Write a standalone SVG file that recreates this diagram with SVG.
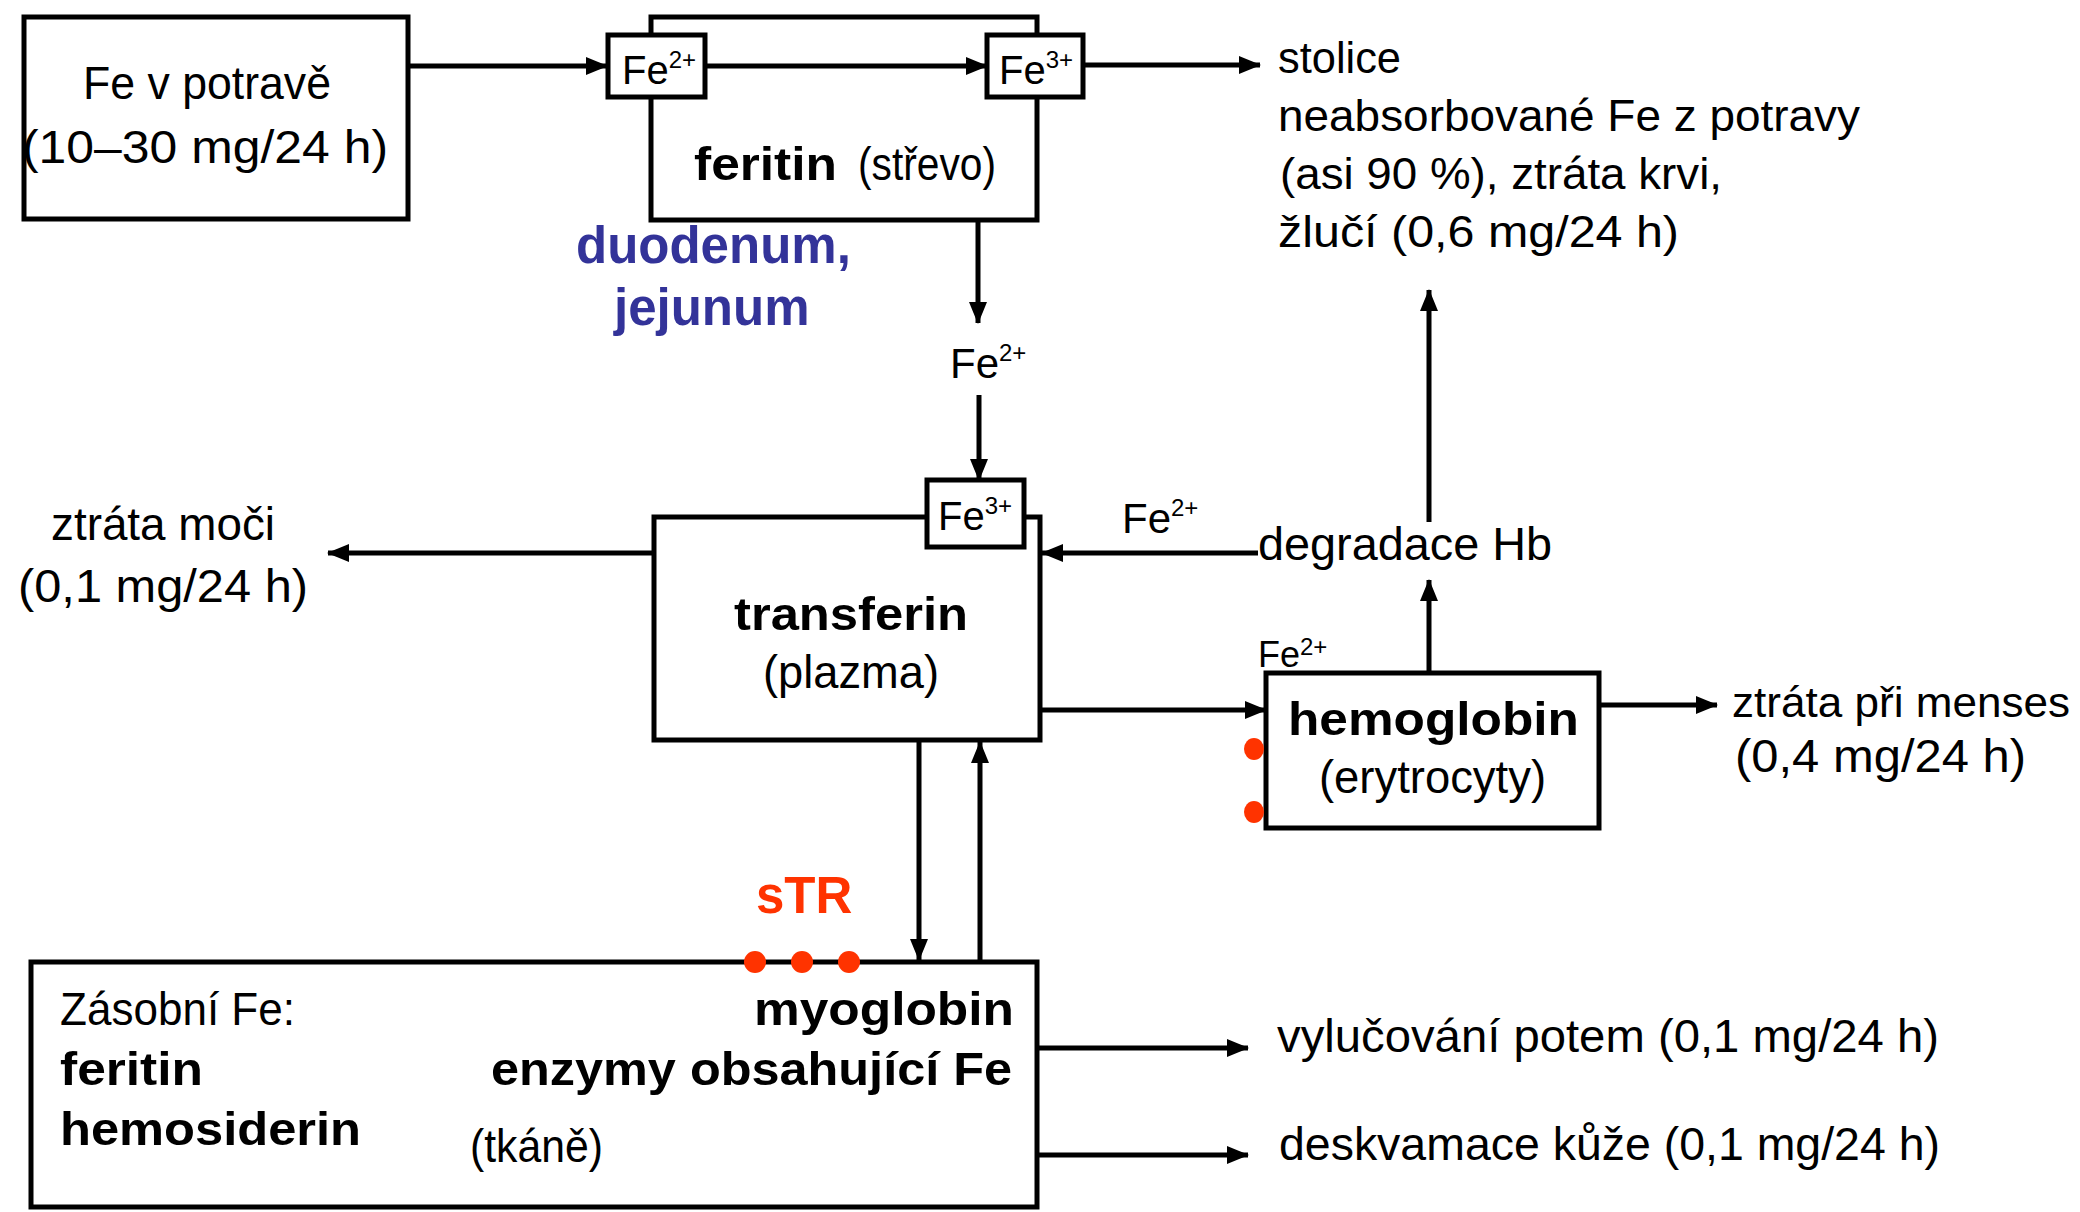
<svg xmlns="http://www.w3.org/2000/svg" width="2080" height="1212" viewBox="0 0 2080 1212">
<defs>
<marker id="ah" markerUnits="userSpaceOnUse" markerWidth="22" markerHeight="18" refX="21" refY="9" orient="auto">
<path d="M0,0 L22,9 L0,18 z" fill="#000"/>
</marker>
<style>
.box{fill:#fff;stroke:#000;stroke-width:5}
.ln{fill:none;stroke:#000;stroke-width:5}
.t{font-family:"Liberation Sans",Arial,sans-serif;font-size:46px;fill:#000}
.t44{font-family:"Liberation Sans",Arial,sans-serif;font-size:44px;fill:#000}
.b{font-family:"Liberation Sans",Arial,sans-serif;font-size:46px;font-weight:bold;fill:#000}
.fe{font-family:"Liberation Sans",Arial,sans-serif;font-size:40px;fill:#000}
.fe42{font-family:"Liberation Sans",Arial,sans-serif;font-size:42px;fill:#000}
.sup{font-size:24px}
.blue{font-family:"Liberation Sans",Arial,sans-serif;font-size:51px;font-weight:bold;fill:#333399}
.red{font-family:"Liberation Sans",Arial,sans-serif;font-size:51px;font-weight:bold;fill:#FF3300}
.dot{fill:#FF3300}
</style>
</defs>
<rect width="2080" height="1212" fill="#fff"/>

<g id="fe-potrava">
<rect class="box" x="24" y="17" width="384" height="202"/>
<text class="t" x="83" y="99" textLength="248" lengthAdjust="spacingAndGlyphs">Fe v potravě</text>
<text class="t" x="22" y="163" textLength="366" lengthAdjust="spacingAndGlyphs">(10–30 mg/24 h)</text>
</g>

<g id="feritin-strevo">
<rect class="box" x="651" y="17" width="386" height="203"/>
<text x="694" y="180"><tspan class="b" textLength="143" lengthAdjust="spacingAndGlyphs">feritin</tspan><tspan class="t" x="858" y="180" textLength="138" lengthAdjust="spacingAndGlyphs">(střevo)</tspan></text>
</g>

<g id="fe2-strevo">
<rect class="box" x="608" y="35" width="97" height="62"/>
<text class="fe" x="622" y="84">Fe<tspan class="sup" dy="-16">2+</tspan></text>
</g>

<g id="fe3-strevo">
<rect class="box" x="987" y="35" width="96" height="62"/>
<text class="fe" x="999" y="84">Fe<tspan class="sup" dy="-16">3+</tspan></text>
</g>

<g id="duodenum">
<text class="blue" x="576" y="263">duodenum,</text>
<text class="blue" x="614" y="325">jejunum</text>
</g>

<g id="stolice">
<text class="t44" x="1278" y="73" textLength="123" lengthAdjust="spacingAndGlyphs">stolice</text>
<text class="t44" x="1278" y="131" textLength="582" lengthAdjust="spacingAndGlyphs">neabsorbované Fe z potravy</text>
<text class="t44" x="1280" y="189" textLength="442" lengthAdjust="spacingAndGlyphs">(asi 90 %), ztráta krvi,</text>
<text class="t44" x="1278" y="247" textLength="401" lengthAdjust="spacingAndGlyphs">žlučí (0,6 mg/24 h)</text>
</g>

<g id="fe2-label">
<text class="fe42" x="950" y="378">Fe<tspan class="sup" dy="-17">2+</tspan></text>
</g>

<g id="transferin">
<rect class="box" x="654" y="517" width="386" height="223"/>
<text class="b" x="734" y="630" textLength="234" lengthAdjust="spacingAndGlyphs">transferin</text>
<text class="t" x="763" y="688" textLength="176" lengthAdjust="spacingAndGlyphs">(plazma)</text>
</g>

<g id="fe3-plazma">
<rect class="box" x="927" y="480" width="97" height="67" stroke-width="6"/>
<text class="fe" x="938" y="530">Fe<tspan class="sup" dy="-16">3+</tspan></text>
</g>

<g id="ztrata-moci">
<text class="t" x="51" y="540" textLength="224" lengthAdjust="spacingAndGlyphs">ztráta moči</text>
<text class="t" x="18" y="602" textLength="290" lengthAdjust="spacingAndGlyphs">(0,1 mg/24 h)</text>
</g>

<g id="degradace">
<text class="fe42" x="1122" y="533">Fe<tspan class="sup" dy="-17">2+</tspan></text>
<text class="t" x="1258" y="560" textLength="294" lengthAdjust="spacingAndGlyphs">degradace Hb</text>
</g>

<g id="hemoglobin">
<rect class="box" x="1266" y="673" width="333" height="155"/>
<text class="b" x="1288" y="735" textLength="291" lengthAdjust="spacingAndGlyphs">hemoglobin</text>
<text class="t" x="1319" y="793" textLength="227" lengthAdjust="spacingAndGlyphs">(erytrocyty)</text>
<text font-family="Liberation Sans, Arial, sans-serif" font-size="36" fill="#000" x="1258" y="667">Fe<tspan font-size="24" dy="-12">2+</tspan></text>
<ellipse class="dot" cx="1254" cy="749" rx="10" ry="11"/>
<ellipse class="dot" cx="1254" cy="812" rx="10" ry="11"/>
</g>

<g id="menses">
<text class="t" style="font-size:42px" x="1732" y="717" textLength="338" lengthAdjust="spacingAndGlyphs">ztráta při menses</text>
<text class="t" x="1735" y="772" textLength="291" lengthAdjust="spacingAndGlyphs">(0,4 mg/24 h)</text>
</g>

<g id="zasobni">
<rect class="box" x="31" y="962" width="1006" height="245"/>
<text class="t" x="60" y="1025" textLength="235" lengthAdjust="spacingAndGlyphs">Zásobní Fe:</text>
<text class="b" x="60" y="1085" textLength="143" lengthAdjust="spacingAndGlyphs">feritin</text>
<text class="b" x="60" y="1145" textLength="301" lengthAdjust="spacingAndGlyphs">hemosiderin</text>
<text class="t" x="470" y="1162" textLength="133" lengthAdjust="spacingAndGlyphs">(tkáně)</text>
<text class="b" x="754" y="1025" textLength="260" lengthAdjust="spacingAndGlyphs">myoglobin</text>
<text class="b" x="491" y="1085" textLength="521" lengthAdjust="spacingAndGlyphs">enzymy obsahující Fe</text>
</g>

<g id="str">
<text class="red" x="756" y="913">sTR</text>
<ellipse class="dot" cx="755" cy="962" rx="11" ry="11"/>
<ellipse class="dot" cx="802" cy="962" rx="11" ry="11"/>
<ellipse class="dot" cx="849" cy="962" rx="11" ry="11"/>
</g>

<g id="vylucovani">
<text class="t" x="1277" y="1052" textLength="662" lengthAdjust="spacingAndGlyphs">vylučování potem (0,1 mg/24 h)</text>
</g>
<g id="deskvamace">
<text class="t" x="1279" y="1160" textLength="661" lengthAdjust="spacingAndGlyphs">deskvamace kůže (0,1 mg/24 h)</text>
</g>

<g id="connectors">
<line class="ln" x1="408" y1="66" x2="607" y2="66" marker-end="url(#ah)"/>
<line class="ln" x1="705" y1="66" x2="987" y2="66" marker-end="url(#ah)"/>
<line class="ln" x1="1083" y1="65" x2="1260" y2="65" marker-end="url(#ah)"/>
<line class="ln" x1="978" y1="220" x2="978" y2="323" marker-end="url(#ah)"/>
<line class="ln" x1="979" y1="395" x2="979" y2="480" marker-end="url(#ah)"/>
<line class="ln" x1="654" y1="553" x2="328" y2="553" marker-end="url(#ah)"/>
<line class="ln" x1="1258" y1="553" x2="1042" y2="553" marker-end="url(#ah)"/>
<line class="ln" x1="1429" y1="673" x2="1429" y2="580" marker-end="url(#ah)"/>
<line class="ln" x1="1429" y1="522" x2="1429" y2="290" marker-end="url(#ah)"/>
<line class="ln" x1="1040" y1="710" x2="1266" y2="710" stroke-width="6" marker-end="url(#ah)"/>
<line class="ln" x1="1599" y1="705" x2="1717" y2="705" marker-end="url(#ah)"/>
<line class="ln" x1="919" y1="740" x2="919" y2="960" marker-end="url(#ah)"/>
<line class="ln" x1="980" y1="962" x2="980" y2="742" marker-end="url(#ah)"/>
<line class="ln" x1="1037" y1="1048" x2="1248" y2="1048" stroke-width="6" marker-end="url(#ah)"/>
<line class="ln" x1="1037" y1="1155" x2="1248" y2="1155" stroke-width="6" marker-end="url(#ah)"/>
</g>
</svg>
